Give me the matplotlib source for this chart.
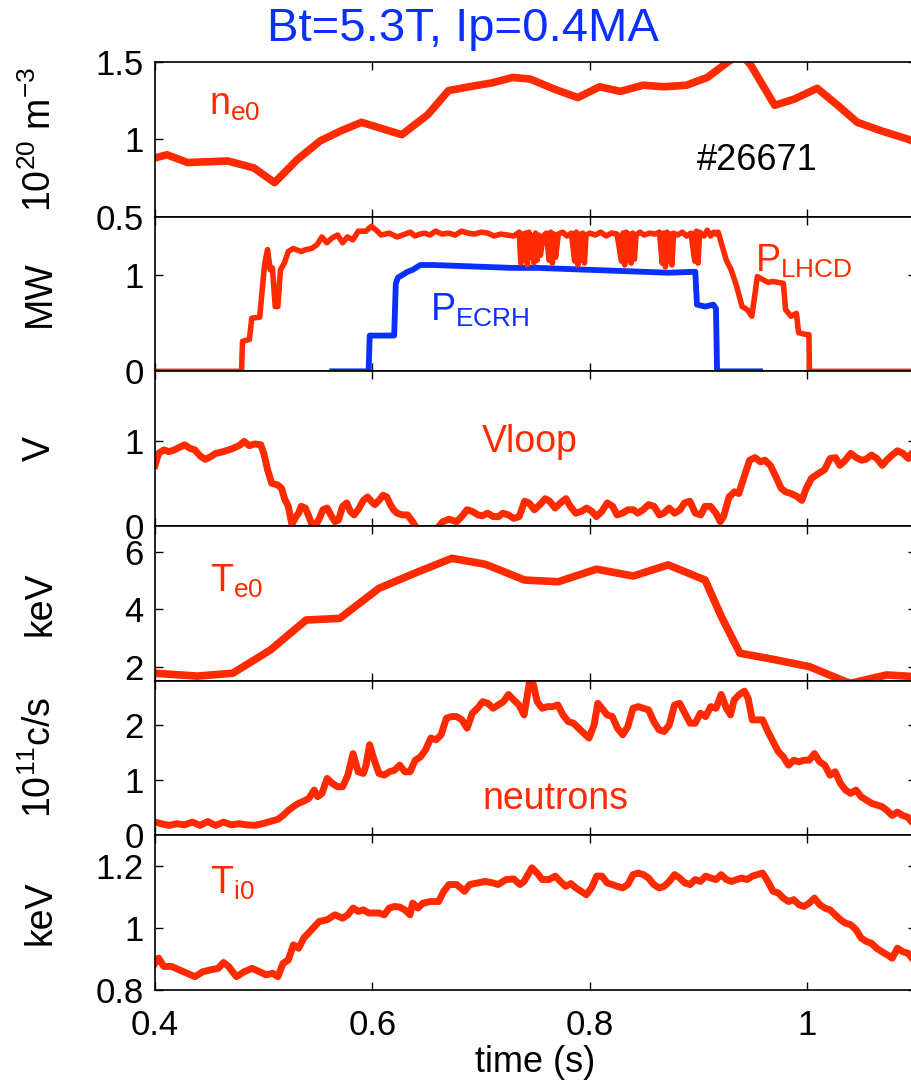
import matplotlib.pyplot as plt

plt.rcParams['font.family'] = ['Liberation Sans', 'DejaVu Sans']
plt.rcParams['mathtext.default'] = 'regular'

red = '#ff2a00'
blue = '#0a30ff'

# n_e0 (10^20 m^-3)
t_ne = [0.4, 0.411, 0.43, 0.467, 0.491, 0.51, 0.531, 0.552, 0.571, 0.59, 0.627, 0.651, 0.67,
        0.689, 0.71, 0.729, 0.745, 0.769, 0.789, 0.809, 0.828, 0.849, 0.868, 0.889, 0.908,
        0.927, 0.935, 0.943, 0.948, 0.97, 0.988, 1.009, 1.028, 1.046, 1.068, 1.093, 1.1]
ne = [0.88, 0.90, 0.85, 0.86, 0.815, 0.72, 0.87, 0.99, 1.055, 1.11, 1.03, 1.16, 1.315,
      1.34, 1.365, 1.40, 1.39, 1.32, 1.27, 1.34, 1.31, 1.35, 1.34, 1.35, 1.40,
      1.50, 1.54, 1.52, 1.48, 1.22, 1.26, 1.33, 1.22, 1.11, 1.055, 1.0, 0.98]

# P_LHCD (MW)
t_lh = [0.4, 0.4796, 0.4805, 0.4868, 0.489, 0.4963, 0.4995, 0.501, 0.5035, 0.506, 0.508,
        0.5106, 0.513, 0.5154, 0.519, 0.5226, 0.527, 0.5345, 0.539, 0.544, 0.549, 0.5535,
        0.558, 0.563, 0.568, 0.5726, 0.577, 0.582, 0.587, 0.594, 0.599, 0.6036, 0.608,
        0.6155, 0.6227, 0.63, 0.635, 0.639, 0.644, 0.648, 0.653, 0.658, 0.664, 0.67, 0.676,
        0.682, 0.688, 0.694, 0.70, 0.706, 0.712, 0.718, 0.724, 0.73,
        0.735, 0.7365, 0.738, 0.7395, 0.741, 0.7425, 0.744, 0.7455, 0.747, 0.7485, 0.75,
        0.7515, 0.753, 0.7545, 0.757, 0.76, 0.7625, 0.764, 0.7655, 0.767, 0.7685,
        0.771, 0.775, 0.779, 0.783, 0.786, 0.7875, 0.789, 0.7905, 0.792, 0.7935, 0.795,
        0.7965, 0.80, 0.805, 0.81, 0.815, 0.82, 0.825, 0.829, 0.8305, 0.832, 0.8335, 0.835,
        0.8365, 0.838, 0.8395, 0.841, 0.8425, 0.846, 0.85, 0.855, 0.86, 0.864, 0.8665,
        0.868, 0.8695, 0.871, 0.8725, 0.874, 0.8755, 0.877, 0.881, 0.885, 0.889, 0.893,
        0.8965, 0.898, 0.8995, 0.901, 0.905, 0.908, 0.911, 0.914,
        0.916, 0.918, 0.9255, 0.93, 0.935, 0.94, 0.9446, 0.949, 0.952, 0.954, 0.959, 0.964,
        0.968, 0.978, 0.98, 0.985, 0.99, 0.992, 0.999, 1.0015, 1.002, 1.1]
p_lh = [0, 0, 0.31, 0.33, 0.55, 0.56, 0.95, 1.12, 1.26, 1.05, 1.07,
        0.67, 0.67, 1.05, 1.12, 1.24, 1.27, 1.24, 1.26, 1.27, 1.31, 1.39,
        1.33, 1.38, 1.41, 1.33, 1.39, 1.36, 1.45, 1.45, 1.50, 1.46, 1.41,
        1.43, 1.39, 1.42, 1.44, 1.40, 1.42, 1.43, 1.41, 1.45, 1.42, 1.43, 1.41,
        1.45, 1.43, 1.42, 1.44, 1.43, 1.40, 1.42, 1.41, 1.40,
        1.44, 1.12, 1.42, 1.15, 1.43, 1.10, 1.44, 1.18, 1.40, 1.12, 1.43,
        1.15, 1.41, 1.20, 1.40, 1.43, 1.15, 1.44, 1.12, 1.42, 1.18,
        1.42, 1.44, 1.40, 1.43, 1.14, 1.44, 1.10, 1.42, 1.15, 1.43, 1.12,
        1.41, 1.43, 1.41, 1.44, 1.40, 1.43, 1.42, 1.14, 1.43, 1.10, 1.44, 1.15,
        1.42, 1.12, 1.43, 1.16, 1.41, 1.44, 1.41, 1.43, 1.42, 1.44, 1.12,
        1.43, 1.08, 1.44, 1.14, 1.42, 1.10, 1.43, 1.41, 1.44, 1.40, 1.43,
        1.14, 1.45, 1.12, 1.44, 1.40, 1.46, 1.40, 1.44,
        1.42, 1.44, 1.15, 1.05, 0.88, 0.67, 0.64, 0.57, 0.81, 0.98, 0.95, 0.92,
        0.93, 0.91, 0.64, 0.57, 0.60, 0.40, 0.38, 0.38, 0, 0]

# P_ECRH (MW)
t_ec = [0.563, 0.5965, 0.5975, 0.62, 0.6215, 0.6235, 0.628, 0.6323, 0.637, 0.644, 0.656,
        0.68, 0.704, 0.728, 0.752, 0.776, 0.8, 0.824, 0.848, 0.872, 0.897, 0.8985, 0.906,
        0.9136, 0.916, 0.917, 0.9565]
p_ec = [0, 0, 0.37, 0.37, 0.91, 0.97, 1.0, 1.03, 1.05, 1.10, 1.10,
        1.09, 1.08, 1.07, 1.07, 1.06, 1.05, 1.04, 1.03, 1.02, 1.03, 0.69, 0.67,
        0.69, 0.65, 0, 0]

# Vloop (V)
t_vl = [0.4, 0.4033, 0.4081, 0.4129, 0.4176, 0.4224, 0.4272, 0.4319, 0.4367, 0.4415, 0.4463,
        0.451, 0.4558, 0.4629, 0.4701, 0.4773, 0.482, 0.4868, 0.4916, 0.4973, 0.5001, 0.5035,
        0.5073, 0.513, 0.5164, 0.5192, 0.5226, 0.5259, 0.5297, 0.5321, 0.5345, 0.5383, 0.5416,
        0.544, 0.5478, 0.5512, 0.5545, 0.5583, 0.5617, 0.5655, 0.5688, 0.5726, 0.5764, 0.5798,
        0.5831, 0.5869, 0.5917, 0.5955, 0.5989, 0.6022, 0.606, 0.6098, 0.6132, 0.6165, 0.6194,
        0.6227, 0.6275, 0.6322, 0.637, 0.6403, 0.65, 0.6608, 0.6647, 0.6704, 0.6775,
        0.682, 0.687, 0.692, 0.697, 0.701, 0.706, 0.711, 0.716, 0.72, 0.725, 0.73, 0.735,
        0.74, 0.744, 0.749, 0.754, 0.759, 0.763, 0.768, 0.773, 0.778, 0.782, 0.787, 0.792,
        0.797, 0.802, 0.806, 0.811, 0.816, 0.821, 0.825, 0.83, 0.835, 0.84, 0.844, 0.849,
        0.854, 0.859, 0.864, 0.868, 0.873, 0.878, 0.883, 0.887, 0.892, 0.897, 0.902, 0.906,
        0.911, 0.916, 0.92, 0.923, 0.928, 0.933, 0.937, 0.942, 0.947, 0.952, 0.957, 0.961,
        0.966, 0.971, 0.976, 0.98, 0.985, 0.99, 0.995, 0.999, 1.004, 1.011, 1.016, 1.021,
        1.026, 1.03, 1.035, 1.04, 1.045, 1.05, 1.054, 1.059, 1.064, 1.069, 1.073, 1.078,
        1.083, 1.088, 1.093, 1.096, 1.1]
vloop = [0.71, 0.85, 0.89, 0.87, 0.89, 0.92, 0.95, 0.91, 0.89, 0.82, 0.78,
         0.81, 0.85, 0.87, 0.90, 0.94, 0.99, 0.94, 0.96, 0.95, 0.85, 0.66,
         0.50, 0.48, 0.44, 0.32, 0.23, 0.02, 0.11, 0.15, 0.23, 0.21, 0.11,
         0.03, 0.01, 0.09, 0.19, 0.21, 0.13, 0.05, 0.07, 0.23, 0.27, 0.17,
         0.13, 0.19, 0.30, 0.34, 0.29, 0.25, 0.30, 0.36, 0.34, 0.25, 0.19,
         0.15, 0.13, 0.13, 0.05, -0.02, -0.15, -0.01, 0.05, 0.08, 0.05,
         0.11, 0.19, 0.17, 0.13, 0.12, 0.15, 0.11, 0.11, 0.15, 0.13, 0.09, 0.11,
         0.29, 0.27, 0.19, 0.25, 0.32, 0.29, 0.21, 0.27, 0.32, 0.23, 0.15, 0.17,
         0.21, 0.17, 0.11, 0.17, 0.27, 0.23, 0.13, 0.15, 0.19, 0.19, 0.15, 0.19,
         0.25, 0.23, 0.13, 0.15, 0.21, 0.15, 0.19, 0.27, 0.29, 0.15, 0.13, 0.23,
         0.23, 0.15, 0.05, 0.11, 0.34, 0.40, 0.38, 0.58, 0.77, 0.80, 0.75, 0.77,
         0.71, 0.58, 0.44, 0.40, 0.38, 0.35, 0.30, 0.44, 0.56, 0.62, 0.66, 0.79,
         0.80, 0.71, 0.77, 0.85, 0.80, 0.77, 0.78, 0.83, 0.79, 0.71, 0.77, 0.83,
         0.88, 0.85, 0.79, 0.85, 0.84]

# T_e0 (keV)
t_te = [0.4, 0.439, 0.4715, 0.506, 0.539, 0.57, 0.606, 0.639, 0.673, 0.704, 0.74, 0.771,
        0.806, 0.84, 0.872, 0.906, 0.921, 0.938, 0.968, 1.002, 1.035, 1.04, 1.073, 1.1]
te = [1.77, 1.67, 1.77, 2.58, 3.63, 3.69, 4.74, 5.27, 5.79, 5.58, 5.03, 4.97,
      5.41, 5.17, 5.56, 5.03, 3.75, 2.47, 2.26, 2.0, 1.48, 1.42, 1.71, 1.65]

# neutrons (10^11 c/s)
t_nt = [0.4, 0.4057, 0.4129, 0.42, 0.4272, 0.4343, 0.4415, 0.4486, 0.4558, 0.463, 0.4701,
        0.4773, 0.4844, 0.4916, 0.4987, 0.5059, 0.513, 0.5178, 0.5226, 0.5273, 0.5321,
        0.5369, 0.5416, 0.5464, 0.5497, 0.5536, 0.5583, 0.5631, 0.5679, 0.5726, 0.5774,
        0.5822, 0.5869, 0.5917, 0.5941, 0.5974, 0.6012, 0.606, 0.6108, 0.6156, 0.6203,
        0.6251, 0.6299, 0.6346, 0.6394, 0.6442, 0.6489, 0.6537, 0.6585, 0.6632, 0.668,
        0.6728, 0.6775, 0.6823, 0.6871, 0.6919, 0.6966, 0.7014, 0.7062, 0.7109, 0.7157,
        0.7205, 0.7252, 0.73, 0.7348, 0.7395, 0.7443, 0.7481, 0.7515, 0.7562, 0.761,
        0.7658, 0.7706, 0.7753, 0.7801, 0.7849, 0.7896, 0.7944, 0.7992, 0.8039, 0.8073,
        0.8111, 0.8159, 0.8206, 0.8254, 0.8302, 0.8349, 0.8397, 0.8445, 0.8492, 0.854,
        0.8588, 0.8636, 0.8683, 0.8731, 0.8779, 0.8826, 0.8874, 0.8922, 0.8969, 0.9017,
        0.9065, 0.9112, 0.916, 0.9208, 0.9256, 0.9294, 0.9327, 0.9375, 0.9422, 0.9456,
        0.9494, 0.9542, 0.9589, 0.9637, 0.9685, 0.9732, 0.978, 0.9828, 0.9875, 0.9923,
        0.9971, 1.0018, 1.0066, 1.0114, 1.0161, 1.0209, 1.0257, 1.0305, 1.0352, 1.04,
        1.0448, 1.0495, 1.0543, 1.0591, 1.0638, 1.0686, 1.0734, 1.0781, 1.0829, 1.0877,
        1.0924, 1.0962, 1.1]
neut = [0.24, 0.21, 0.18, 0.21, 0.19, 0.24, 0.18, 0.25, 0.18, 0.24, 0.19,
        0.21, 0.19, 0.18, 0.21, 0.25, 0.29, 0.36, 0.45, 0.52, 0.58,
        0.62, 0.67, 0.82, 0.70, 0.76, 1.03, 0.94, 0.88, 0.88, 1.09,
        1.48, 1.15, 1.12, 1.27, 1.64, 1.39, 1.12, 1.09, 1.15, 1.18,
        1.27, 1.15, 1.15, 1.36, 1.42, 1.55, 1.76, 1.73, 1.82, 2.12,
        2.15, 2.15, 2.09, 1.94, 2.21, 2.30, 2.42, 2.39, 2.30, 2.36,
        2.42, 2.55, 2.45, 2.36, 2.18, 2.76, 2.73, 2.42, 2.30, 2.33,
        2.33, 2.36, 2.18, 2.06, 2.03, 1.94, 1.85, 1.76, 2.00, 2.39,
        2.30, 2.18, 2.15, 1.94, 1.82, 1.97, 2.30, 2.33, 2.30, 2.27,
        2.06, 1.91, 1.88, 2.00, 2.36, 2.39, 2.21, 2.03, 2.03, 2.21,
        2.15, 2.33, 2.30, 2.55, 2.30, 2.18, 2.45, 2.55, 2.61, 2.48,
        2.09, 2.09, 2.09, 1.88, 1.70, 1.52, 1.42, 1.27, 1.36, 1.33,
        1.36, 1.36, 1.48, 1.33, 1.27, 1.09, 1.15, 0.94, 0.82, 0.76,
        0.82, 0.70, 0.64, 0.58, 0.55, 0.52, 0.45, 0.36, 0.42, 0.36,
        0.33, 0.24, 0.27]

# T_i0 (keV)
t_ti = [0.4, 0.4033, 0.4081, 0.4153, 0.4224, 0.4296, 0.4367, 0.4439, 0.451, 0.4582, 0.463,
        0.4677, 0.4749, 0.482, 0.4892, 0.4963, 0.5021, 0.5083, 0.513, 0.5178, 0.5226,
        0.5273, 0.5321, 0.5369, 0.544, 0.5512, 0.5583, 0.5655, 0.5726, 0.5774, 0.5822,
        0.5869, 0.5917, 0.5965, 0.6012, 0.606, 0.6108, 0.6156, 0.6203, 0.6251, 0.6299,
        0.6346, 0.637, 0.6418, 0.6466, 0.6537, 0.6609, 0.6656, 0.6704, 0.6775, 0.6847,
        0.6895, 0.6966, 0.7038, 0.7109, 0.7157, 0.7229, 0.73, 0.7357, 0.7395, 0.7467,
        0.7515, 0.7562, 0.7624, 0.7682, 0.7729, 0.7777, 0.7825, 0.7872, 0.792, 0.7968,
        0.8015, 0.8063, 0.8111, 0.8159, 0.8206, 0.8254, 0.8302, 0.8349, 0.8397, 0.8445,
        0.8492, 0.854, 0.8588, 0.8636, 0.8683, 0.8731, 0.8779, 0.8826, 0.8874, 0.8922,
        0.8969, 0.9017, 0.9065, 0.9112, 0.916, 0.9208, 0.9256, 0.9303, 0.9351, 0.9398,
        0.9446, 0.9494, 0.9542, 0.9589, 0.9637, 0.9685, 0.9732, 0.978, 0.9828, 0.9875,
        0.9923, 0.9971, 1.0018, 1.0066, 1.0114, 1.0161, 1.0209, 1.0257, 1.0305, 1.0352,
        1.04, 1.0448, 1.0495, 1.0543, 1.0591, 1.0638, 1.0686, 1.0734, 1.0781, 1.0829,
        1.0877, 1.0924, 1.0962, 1.1]
ti = [0.886, 0.903, 0.876, 0.876, 0.865, 0.854, 0.843, 0.859, 0.865, 0.870, 0.889,
      0.876, 0.843, 0.859, 0.870, 0.859, 0.849, 0.854, 0.843, 0.886, 0.897,
      0.946, 0.935, 0.968, 0.995, 1.022, 1.027, 1.043, 1.032, 1.043, 1.065,
      1.054, 1.059, 1.049, 1.049, 1.049, 1.043, 1.065, 1.070, 1.068, 1.059,
      1.043, 1.081, 1.065, 1.081, 1.086, 1.086, 1.119, 1.141, 1.141, 1.119,
      1.141, 1.146, 1.151, 1.146, 1.141, 1.157, 1.159, 1.141, 1.151, 1.195,
      1.178, 1.157, 1.157, 1.168, 1.151, 1.135, 1.144, 1.130, 1.119, 1.108,
      1.130, 1.168, 1.168, 1.146, 1.141, 1.135, 1.130, 1.141, 1.173, 1.178,
      1.173, 1.162, 1.141, 1.130, 1.135, 1.151, 1.173, 1.162, 1.146, 1.141,
      1.157, 1.151, 1.168, 1.162, 1.157, 1.173, 1.157, 1.151, 1.157, 1.162,
      1.157, 1.168, 1.173, 1.178, 1.151, 1.119, 1.114, 1.097, 1.086, 1.092,
      1.076, 1.070, 1.081, 1.097, 1.076, 1.065, 1.059, 1.043, 1.027, 1.016,
      1.011, 0.995, 0.968, 0.957, 0.951, 0.935, 0.924, 0.914, 0.903, 0.935,
      0.924, 0.919, 0.903, 0.90]

ylims = [(0.5, 1.5), (0, 1.6), (0, 1.81), (1.51, 6.92), (0, 2.8), (0.8, 1.3)]
yticks = [[0.5, 1, 1.5], [0, 1], [0, 1], [2, 4, 6], [0, 1, 2], [0.8, 1, 1.2]]
ytlabels = [['0.5', '1', '1.5'], ['0', '1'], ['0', '1'], ['2', '4', '6'],
            ['0', '1', '2'], ['0.8', '1', '1.2']]
ylabels = [r'10$^{20}$ m$^{-3}$', 'MW', 'V', 'keV', r'10$^{11}$c/s', 'keV']

W, H = 912, 1084
fig = plt.figure(figsize=(W / 100, H / 100), dpi=100)
top, ph = 62, 928 / 6
left, right = 155, 916
axes = []
for i in range(6):
    b = 1 - (top + ph * (i + 1)) / H
    ax = fig.add_axes([left / W, b, (right - left) / W, ph / H])
    ax.set_xlim(0.4, 1.1)
    ax.set_ylim(*ylims[i])
    ax.set_yticks(yticks[i])
    ax.set_yticklabels(ytlabels[i])
    ax.set_xticks([0.4, 0.6, 0.8, 1.0])
    ax.set_xticklabels(['0.4', '0.6', '0.8', '1'] if i == 5 else [])
    ax.tick_params(direction='in', length=6, width=1, top=True, right=True,
                   labelsize=25, pad=8)
    ax.tick_params(axis='x', pad=14)
    for s in ax.spines.values():
        s.set_linewidth(1.2)
    fig.text(0.044, b + ph / H / 2, ylabels[i], rotation=90, fontsize=27,
             ha='center', va='center')
    axes.append(ax)

axes[0].plot(t_ne, ne, color=red, lw=5.5)
axes[1].plot(t_ec, p_ec, color=blue, lw=4.2)
axes[1].plot(t_lh, p_lh, color=red, lw=4)
axes[2].plot(t_vl, vloop, color=red, lw=5)
axes[3].plot(t_te, te, color=red, lw=5.5)
axes[4].plot(t_nt, neut, color=red, lw=5)
axes[5].plot(t_ti, ti, color=red, lw=5)

axes[0].text(0.45, 1.16, r'n$_{e0}$', color=red, fontsize=27)
axes[0].text(0.898, 0.80, '#26671', color='black', fontsize=26)
axes[1].text(0.952, 1.03, r'P$_{LHCD}$', color=red, fontsize=27)
axes[1].text(0.653, 0.52, r'P$_{ECRH}$', color=blue, fontsize=27)
axes[2].text(0.701, 0.87, 'Vloop', color=red, fontsize=27)
axes[3].text(0.451, 4.62, r'T$_{e0}$', color=red, fontsize=27)
axes[4].text(0.701, 0.485, 'neutrons', color=red, fontsize=27)
axes[5].text(0.451, 1.111, r'T$_{i0}$', color=red, fontsize=27)

axes[5].set_xlabel('time (s)', fontsize=26, labelpad=2)
fig.text(0.508, 0.973, 'Bt=5.3T, Ip=0.4MA', color=blue, fontsize=34,
         ha='center', va='center')

fig.savefig('out.png', dpi=100)
